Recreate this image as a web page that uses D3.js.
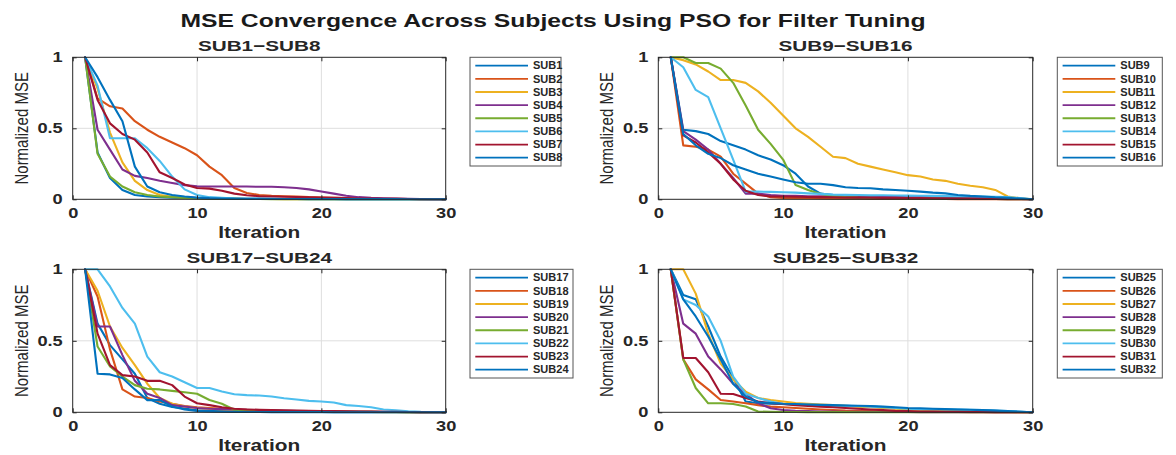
<!DOCTYPE html>
<html><head><meta charset="utf-8">
<script src="https://cdn.jsdelivr.net/npm/d3@7"></script>
<style>
body{margin:0;background:#fff;}
svg{display:block;}
text{font-family:"Liberation Sans",Arial,Helvetica,sans-serif;fill:#262626;}
</style>
</head><body>
<svg id="c" width="1176" height="455"></svg>
<script>
// ---------------- DATA ----------------
const mainTitle = "MSE Convergence Across Subjects Using PSO for Filter Tuning";
const panelTitles = ["SUB1\u2212SUB8", "SUB9\u2212SUB16", "SUB17\u2212SUB24", "SUB25\u2212SUB32"];
const xLabel = "Iteration";
const yLabel = "Normalized MSE";
const iterations = d3.range(1, 31);
const xTickValues = [0, 10, 20, 30];
const yTickValues = [0, 0.5, 1];
const yTickLabels = ["0", "0.5", "1"];

const SUB1  = [1,0.33,0.15,0.065,0.03,0.02,0.015,0.012,0.01,0.008,0.006,0.005,0.004,0.003,0.003,0.002,0.002,0.002,0.001,0.001,0.001,0.001,0.001,0.001,0.001,0.0005,0.0005,0.0003,0.0001,0];
const SUB2  = [1,0.71,0.655,0.64,0.55,0.49,0.44,0.40,0.36,0.31,0.23,0.17,0.08,0.045,0.03,0.025,0.022,0.02,0.015,0.012,0.01,0.008,0.006,0.005,0.004,0.003,0.002,0.001,0.0005,0];
const SUB3  = [1,0.78,0.47,0.26,0.13,0.065,0.03,0.018,0.012,0.008,0.006,0.004,0.003,0.002,0.002,0.002,0.001,0.001,0.001,0.001,0.001,0.001,0.0005,0.0005,0.0005,0.0005,0.0003,0.0002,0.0001,0];
const SUB4  = [1,0.49,0.35,0.21,0.165,0.15,0.13,0.115,0.1,0.092,0.09,0.09,0.09,0.09,0.088,0.088,0.085,0.08,0.07,0.055,0.04,0.025,0.015,0.01,0.007,0.005,0.003,0.002,0.001,0];
const SUB5  = [1,0.32,0.16,0.09,0.05,0.03,0.02,0.015,0.01,0.007,0.005,0.004,0.003,0.002,0.002,0.001,0.001,0.001,0.001,0.001,0.0005,0.0005,0.0005,0.0005,0.0005,0.0003,0.0003,0.0002,0.0001,0];
const SUB6  = [1,0.8,0.43,0.43,0.43,0.36,0.27,0.16,0.07,0.03,0.015,0.01,0.006,0.004,0.003,0.002,0.002,0.002,0.001,0.001,0.001,0.001,0.001,0.0005,0.0005,0.0005,0.0003,0.0002,0.0001,0];
const SUB7  = [1,0.70,0.535,0.46,0.42,0.33,0.19,0.15,0.105,0.08,0.075,0.06,0.04,0.028,0.022,0.02,0.018,0.016,0.014,0.012,0.01,0.008,0.006,0.005,0.004,0.003,0.002,0.001,0.0005,0];
const SUB8  = [1,0.86,0.7,0.55,0.23,0.09,0.05,0.03,0.02,0.012,0.008,0.006,0.005,0.004,0.003,0.003,0.002,0.002,0.002,0.002,0.002,0.001,0.001,0.001,0.001,0.001,0.0005,0.0005,0.0002,0];

const SUB9  = [1,0.49,0.48,0.46,0.41,0.38,0.35,0.31,0.28,0.24,0.18,0.09,0.04,0.03,0.025,0.022,0.02,0.02,0.018,0.016,0.015,0.014,0.012,0.011,0.01,0.008,0.006,0.004,0.002,0];
const SUB10 = [1,0.38,0.37,0.35,0.30,0.18,0.11,0.04,0.015,0.01,0.008,0.007,0.006,0.005,0.004,0.004,0.003,0.003,0.003,0.002,0.002,0.002,0.002,0.001,0.001,0.001,0.001,0.0005,0.0002,0];
const SUB11 = [1,0.98,0.95,0.9,0.84,0.84,0.82,0.76,0.68,0.59,0.5,0.44,0.37,0.30,0.29,0.25,0.23,0.21,0.19,0.17,0.16,0.14,0.13,0.11,0.096,0.085,0.066,0.02,0.007,0];
const SUB12 = [1,0.48,0.42,0.35,0.25,0.15,0.04,0.04,0.03,0.024,0.024,0.022,0.022,0.021,0.021,0.02,0.02,0.02,0.02,0.02,0.02,0.019,0.018,0.018,0.017,0.014,0.01,0.006,0.003,0];
const SUB13 = [1,1,0.96,0.96,0.92,0.82,0.66,0.49,0.39,0.28,0.1,0.066,0.038,0.024,0.016,0.012,0.01,0.009,0.008,0.007,0.006,0.005,0.004,0.004,0.003,0.002,0.002,0.001,0.0005,0];
const SUB14 = [1,0.93,0.77,0.72,0.5,0.28,0.054,0.054,0.052,0.05,0.047,0.042,0.038,0.033,0.031,0.03,0.029,0.028,0.027,0.026,0.025,0.024,0.023,0.022,0.021,0.02,0.018,0.015,0.008,0];
const SUB15 = [1,0.45,0.4,0.33,0.25,0.14,0.06,0.03,0.02,0.02,0.018,0.016,0.015,0.014,0.013,0.012,0.011,0.01,0.01,0.009,0.008,0.007,0.006,0.005,0.004,0.003,0.002,0.001,0.0005,0];
const SUB16 = [1,0.46,0.38,0.32,0.29,0.24,0.21,0.18,0.16,0.14,0.12,0.11,0.11,0.10,0.085,0.08,0.078,0.07,0.066,0.06,0.054,0.047,0.042,0.03,0.024,0.02,0.014,0.01,0.005,0];

const SUB17 = [1,0.62,0.47,0.37,0.27,0.1,0.06,0.037,0.026,0.014,0.01,0.008,0.006,0.005,0.004,0.003,0.003,0.002,0.002,0.002,0.001,0.001,0.001,0.001,0.001,0.0005,0.0005,0.0003,0.0001,0];
const SUB18 = [1,0.81,0.44,0.16,0.11,0.1,0.075,0.06,0.044,0.035,0.03,0.025,0.02,0.018,0.016,0.014,0.012,0.01,0.008,0.007,0.006,0.005,0.004,0.003,0.002,0.002,0.001,0.001,0.0005,0];
const SUB19 = [1,0.85,0.6,0.45,0.33,0.2,0.1,0.06,0.04,0.03,0.025,0.02,0.016,0.013,0.01,0.008,0.007,0.006,0.005,0.004,0.003,0.003,0.002,0.002,0.001,0.001,0.001,0.0005,0.0002,0];
const SUB20 = [1,0.6,0.6,0.4,0.22,0.13,0.1,0.05,0.04,0.03,0.025,0.022,0.02,0.018,0.016,0.014,0.012,0.01,0.009,0.008,0.007,0.006,0.005,0.004,0.003,0.002,0.002,0.001,0.0005,0];
const SUB21 = [1,0.46,0.32,0.25,0.19,0.165,0.16,0.15,0.14,0.13,0.086,0.06,0.018,0.015,0.012,0.01,0.009,0.008,0.007,0.006,0.005,0.004,0.004,0.003,0.002,0.002,0.001,0.001,0.0005,0];
const SUB22 = [1,1,0.88,0.73,0.62,0.39,0.28,0.25,0.21,0.17,0.17,0.145,0.126,0.12,0.117,0.11,0.098,0.09,0.08,0.075,0.068,0.05,0.044,0.035,0.02,0.014,0.007,0.003,0.001,0];
const SUB23 = [1,0.55,0.33,0.26,0.25,0.22,0.22,0.19,0.11,0.063,0.05,0.035,0.025,0.02,0.017,0.015,0.013,0.011,0.01,0.009,0.008,0.007,0.006,0.005,0.004,0.003,0.002,0.001,0.0005,0];
const SUB24 = [1,0.27,0.265,0.24,0.16,0.085,0.085,0.04,0.02,0.01,0.006,0.004,0.003,0.002,0.002,0.001,0.001,0.001,0.001,0.001,0.0005,0.0005,0.0005,0.0005,0.0003,0.0003,0.0002,0.0002,0.0001,0];

const SUB25 = [1,0.82,0.79,0.6,0.39,0.24,0.075,0.063,0.06,0.058,0.055,0.052,0.05,0.048,0.045,0.042,0.04,0.035,0.03,0.025,0.022,0.02,0.02,0.018,0.016,0.014,0.01,0.006,0.003,0];
const SUB26 = [1,0.37,0.23,0.16,0.086,0.075,0.063,0.05,0.04,0.035,0.03,0.025,0.02,0.016,0.012,0.01,0.008,0.006,0.005,0.004,0.003,0.003,0.002,0.002,0.001,0.001,0.001,0.0005,0.0002,0];
const SUB27 = [1,1,0.83,0.55,0.34,0.23,0.145,0.1,0.086,0.075,0.065,0.06,0.055,0.05,0.045,0.04,0.035,0.03,0.025,0.02,0.018,0.015,0.012,0.01,0.008,0.006,0.004,0.003,0.001,0];
const SUB28 = [1,0.62,0.55,0.39,0.3,0.2,0.13,0.063,0.028,0.016,0.01,0.008,0.006,0.005,0.004,0.003,0.003,0.002,0.002,0.002,0.001,0.001,0.001,0.001,0.001,0.0005,0.0005,0.0003,0.0001,0];
const SUB29 = [1,0.37,0.17,0.063,0.063,0.058,0.04,0.005,0.003,0.002,0.002,0.001,0.001,0.001,0.001,0.0005,0.0005,0.0005,0.0005,0.0005,0.0003,0.0003,0.0003,0.0002,0.0002,0.0002,0.0001,0.0001,0.0001,0];
const SUB30 = [1,0.79,0.75,0.67,0.5,0.25,0.13,0.1,0.075,0.058,0.055,0.052,0.05,0.048,0.046,0.044,0.04,0.036,0.03,0.025,0.022,0.02,0.02,0.02,0.018,0.016,0.012,0.008,0.004,0];
const SUB31 = [1,0.38,0.38,0.28,0.13,0.128,0.1,0.075,0.063,0.058,0.05,0.045,0.04,0.035,0.03,0.025,0.02,0.015,0.01,0.008,0.006,0.005,0.004,0.003,0.002,0.002,0.001,0.001,0.0005,0];
const SUB32 = [1,0.79,0.67,0.53,0.37,0.2,0.11,0.07,0.065,0.06,0.058,0.055,0.052,0.05,0.048,0.046,0.044,0.04,0.035,0.03,0.028,0.025,0.022,0.02,0.018,0.015,0.012,0.008,0.004,0];

const seriesNames = [
  ["SUB1","SUB2","SUB3","SUB4","SUB5","SUB6","SUB7","SUB8"],
  ["SUB9","SUB10","SUB11","SUB12","SUB13","SUB14","SUB15","SUB16"],
  ["SUB17","SUB18","SUB19","SUB20","SUB21","SUB22","SUB23","SUB24"],
  ["SUB25","SUB26","SUB27","SUB28","SUB29","SUB30","SUB31","SUB32"]
];
const seriesValues = [
  [SUB1,SUB2,SUB3,SUB4,SUB5,SUB6,SUB7,SUB8],
  [SUB9,SUB10,SUB11,SUB12,SUB13,SUB14,SUB15,SUB16],
  [SUB17,SUB18,SUB19,SUB20,SUB21,SUB22,SUB23,SUB24],
  [SUB25,SUB26,SUB27,SUB28,SUB29,SUB30,SUB31,SUB32]
];
const colors = ["#0072BD","#D95319","#EDB120","#7E2F8E","#77AC30","#4DBEEE","#A2142F","#0072BD"];

// ---------------- LAYOUT ----------------
const boxes = [
  {l:72.7,  r:445.7,  t:57.3,  b:199.3, lx:470,    lw:91},
  {l:658.3, r:1032.7, t:57.3,  b:199.3, lx:1057.3, lw:105},
  {l:72.7,  r:445.7,  t:269.3, b:412.3, lx:470,    lw:103},
  {l:658.3, r:1032.7, t:269.3, b:412.3, lx:1057.3, lw:105}
];
const HSTRETCH = 1.3;
const svg = d3.select("#c");

function stretch(sel, factor) {
  sel.each(function() {
    const w = this.getComputedTextLength();
    this.setAttribute("textLength", w * factor);
    this.setAttribute("lengthAdjust", "spacingAndGlyphs");
  });
}
function stretchTo(sel, target) {
  sel.each(function() {
    this.setAttribute("textLength", target);
    this.setAttribute("lengthAdjust", "spacingAndGlyphs");
  });
}

// main title
const mt = svg.append("text").attr("x", 553).attr("y", 26.5)
  .attr("text-anchor", "middle").style("font-size", "18.5px").style("font-weight", "bold")
  .style("fill", "#1a1a1a").text(mainTitle);
stretchTo(mt, 745);

boxes.forEach((bx, pi) => {
  const x = d3.scaleLinear().domain([0, 30]).range([bx.l, bx.r]);
  const y = d3.scaleLinear().domain([0, 1]).range([bx.b, bx.t]);
  const g = svg.append("g");

  // grid
  g.selectAll(".gx").data(xTickValues.filter(v => v > 0 && v < 30)).enter().append("line")
    .attr("x1", d => x(d)).attr("x2", d => x(d)).attr("y1", bx.t).attr("y2", bx.b)
    .attr("stroke", "#dedede").attr("stroke-width", 1);
  g.selectAll(".gy").data(yTickValues.filter(v => v > 0 && v < 1)).enter().append("line")
    .attr("y1", d => y(d)).attr("y2", d => y(d)).attr("x1", bx.l).attr("x2", bx.r)
    .attr("stroke", "#dedede").attr("stroke-width", 1);

  // lines
  const line = d3.line().x((d, i) => x(iterations[i])).y(d => y(d));
  seriesValues[pi].forEach((vals, si) => {
    g.append("path").datum(vals).attr("d", line).attr("fill", "none")
      .attr("stroke", colors[si]).attr("stroke-width", 2.1)
      .attr("stroke-linejoin", "round").attr("stroke-linecap", "round");
  });

  // axes
  const fmt = d => yTickLabels[yTickValues.indexOf(d)];
  const ax = g.append("g").attr("transform", `translate(0,${bx.b})`)
    .call(d3.axisBottom(x).tickValues(xTickValues).tickFormat(d => String(d)).tickSizeInner(-4).tickSizeOuter(0).tickPadding(9));
  const axT = g.append("g").attr("transform", `translate(0,${bx.t})`)
    .call(d3.axisTop(x).tickValues(xTickValues).tickFormat("").tickSizeInner(-4).tickSizeOuter(0));
  const ay = g.append("g").attr("transform", `translate(${bx.l},0)`)
    .call(d3.axisLeft(y).tickValues(yTickValues).tickFormat(fmt).tickSizeInner(-4).tickSizeOuter(0).tickPadding(10));
  const ayR = g.append("g").attr("transform", `translate(${bx.r},0)`)
    .call(d3.axisRight(y).tickValues(yTickValues).tickFormat("").tickSizeInner(-4).tickSizeOuter(0));
  [ax, axT, ay, ayR].forEach(a => {
    a.select(".domain").remove();
    a.selectAll("line").attr("stroke", "#262626");
    a.attr("font-family", null).attr("font-size", null);
  });
  [ax, ay].forEach(a => {
    a.selectAll("text").style("font-size", "14px").style("font-weight", "bold").attr("fill", "#262626");
    stretch(a.selectAll("text"), HSTRETCH);
  });

  // box
  g.append("rect").attr("x", bx.l).attr("y", bx.t).attr("width", bx.r - bx.l).attr("height", bx.b - bx.t)
    .attr("fill", "none").attr("stroke", "#262626").attr("stroke-width", 1);

  // subplot title
  const st = g.append("text").attr("x", (bx.l + bx.r) / 2).attr("y", bx.t - 6.6)
    .attr("text-anchor", "middle").style("font-size", "15px").style("font-weight", "bold")
    .text(panelTitles[pi]);
  stretch(st, 1.38);

  // x label
  const xl = g.append("text").attr("x", (bx.l + bx.r) / 2).attr("y", bx.b + 39)
    .attr("text-anchor", "middle").style("font-size", "16px").style("font-weight", "bold")
    .text(xLabel);
  stretch(xl, HSTRETCH);

  // y label
  g.append("text")
    .attr("transform", `translate(${bx.l - 45},${(bx.t + bx.b) / 2}) scale(1.25,1) rotate(-90)`)
    .attr("text-anchor", "middle").style("font-size", "15px")
    .text(yLabel);

  // legend
  const rowH = 13.14;
  const lg = svg.append("g");
  lg.append("rect").attr("x", bx.lx).attr("y", bx.t).attr("width", bx.lw).attr("height", 108.7)
    .attr("fill", "#fff").attr("stroke", "#555").attr("stroke-width", 1);
  seriesNames[pi].forEach((nm, si) => {
    const cy = bx.t + 8.4 + si * rowH;
    lg.append("line").attr("x1", bx.lx + 5.3).attr("x2", bx.lx + 58).attr("y1", cy).attr("y2", cy)
      .attr("stroke", colors[si]).attr("stroke-width", 1.8);
    const t = lg.append("text").attr("x", bx.lx + 63).attr("y", cy).attr("dy", "0.36em")
      .style("font-size", "10.5px").style("font-weight", "bold").text(nm);
    stretch(t, 1.05);
  });
});
</script>
</body></html>
